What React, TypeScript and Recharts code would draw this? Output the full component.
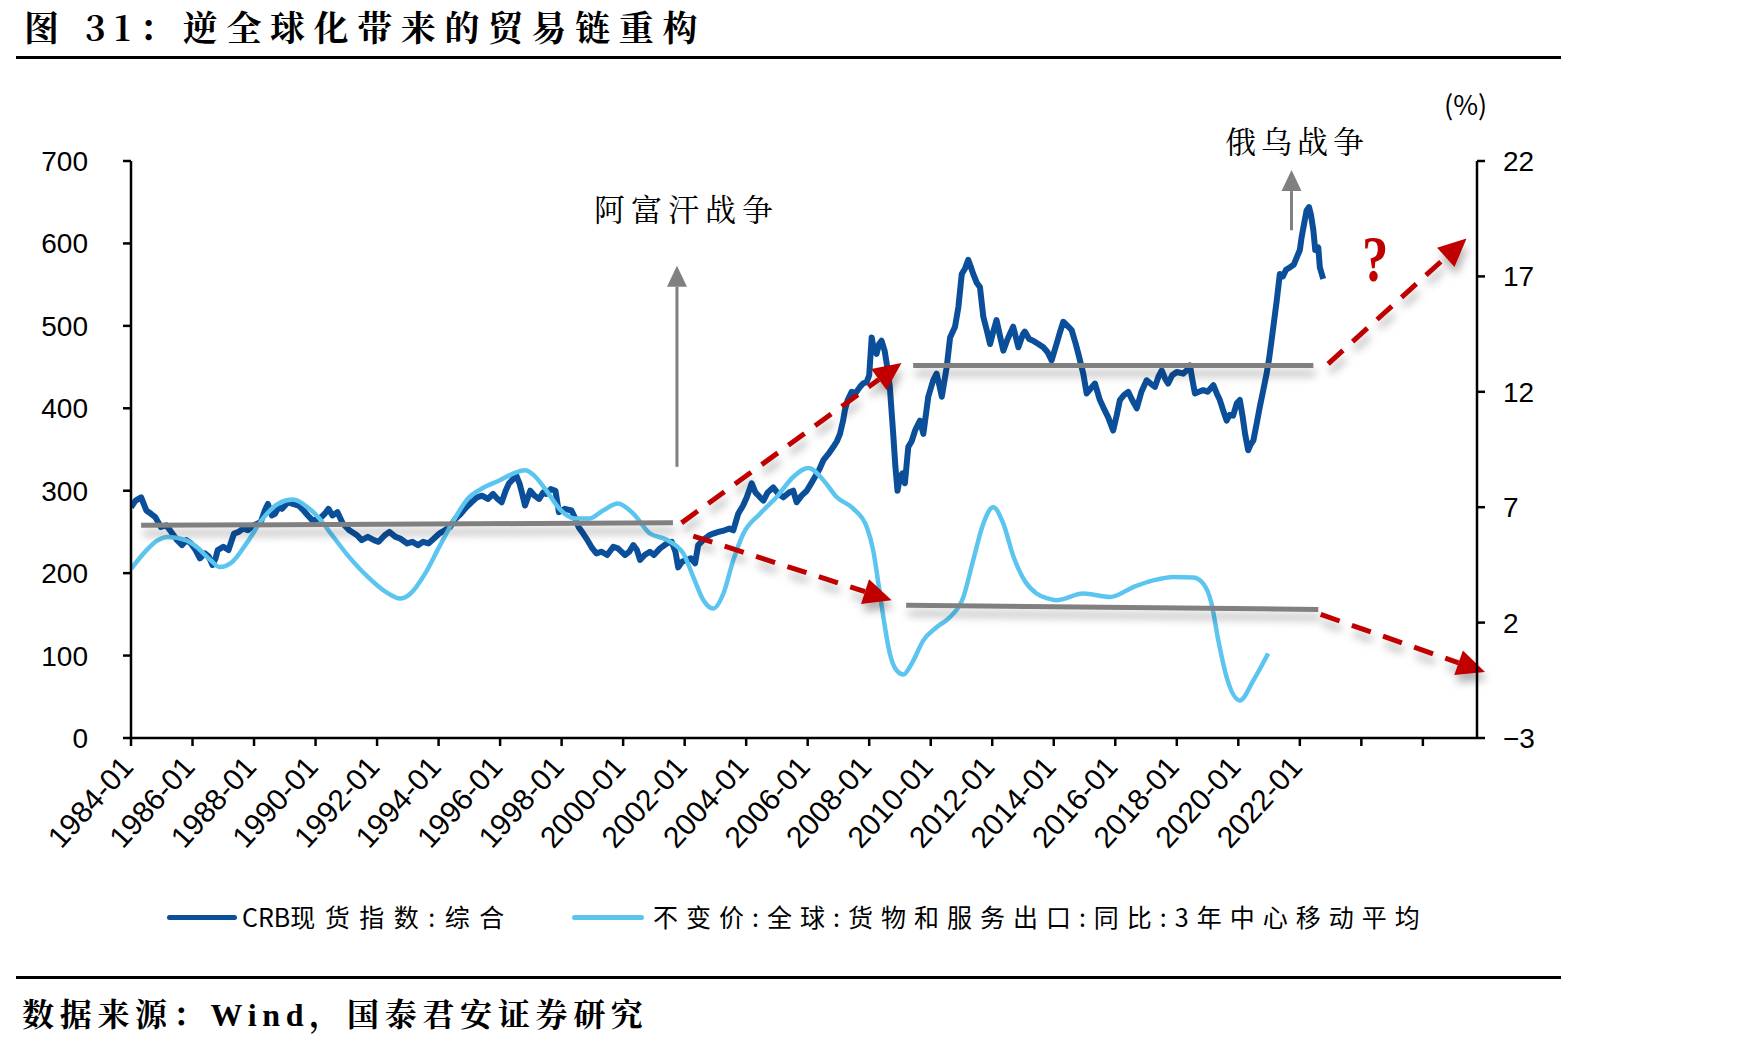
import React from "react";
import { LineChart, Line, XAxis, YAxis, ReferenceLine } from "recharts";

// CRB spot index, composite (left axis)
const crbYears = [
  1984.0, 1984.15, 1984.33, 1984.5, 1984.65, 1984.79, 1984.97, 1985.15, 1985.31, 1985.5,
  1985.66, 1985.8, 1985.95, 1986.1, 1986.24, 1986.4, 1986.53, 1986.65, 1986.75, 1986.82,
  1987.0, 1987.17, 1987.35, 1987.5, 1987.64, 1987.8, 1987.99, 1988.22, 1988.35, 1988.45,
  1988.58, 1988.68, 1988.8, 1988.91, 1989.1, 1989.26, 1989.45, 1989.61, 1989.75, 1989.9,
  1990.13, 1990.3, 1990.42, 1990.55, 1990.71, 1990.89, 1991.1, 1991.35, 1991.5, 1991.7,
  1991.9, 1992.05, 1992.25, 1992.4, 1992.6, 1992.75, 1992.98, 1993.15, 1993.33, 1993.5,
  1993.67, 1993.85, 1994.02, 1994.2, 1994.37, 1994.55, 1994.72, 1994.9, 1995.07, 1995.25,
  1995.41, 1995.6, 1995.77, 1995.92, 1996.05, 1996.18, 1996.29, 1996.42, 1996.52, 1996.63,
  1996.72, 1996.81, 1996.98, 1997.12, 1997.27, 1997.4, 1997.5, 1997.65, 1997.8, 1997.91,
  1998.1, 1998.32, 1998.45, 1998.55, 1998.7, 1998.84, 1999.0, 1999.13, 1999.3, 1999.48,
  1999.68, 1999.83, 2000.06, 2000.2, 2000.33, 2000.45, 2000.55, 2000.7, 2000.87, 2001.0,
  2001.2, 2001.42, 2001.58, 2001.7, 2001.79, 2001.92, 2002.07, 2002.2, 2002.34, 2002.44,
  2002.6, 2002.8, 2002.93, 2003.1, 2003.3, 2003.45, 2003.58, 2003.74, 2003.9, 2004.02,
  2004.18, 2004.3, 2004.45, 2004.56, 2004.7, 2004.88, 2005.05, 2005.21, 2005.4, 2005.53,
  2005.64, 2005.8, 2005.97, 2006.1, 2006.24, 2006.38, 2006.51, 2006.7, 2006.83, 2006.95,
  2007.05, 2007.15, 2007.21, 2007.3, 2007.43, 2007.55, 2007.7, 2007.8, 2007.92, 2008.0,
  2008.08, 2008.16, 2008.24, 2008.32, 2008.4, 2008.5, 2008.57, 2008.67, 2008.78, 2008.85,
  2008.92, 2009.0, 2009.08, 2009.16, 2009.27, 2009.38, 2009.49, 2009.58, 2009.65, 2009.76,
  2009.92, 2010.08, 2010.19, 2010.28, 2010.36, 2010.52, 2010.63, 2010.79, 2010.9, 2011.01,
  2011.12, 2011.22, 2011.3, 2011.38, 2011.5, 2011.6, 2011.71, 2011.82, 2011.93, 2012.04,
  2012.14, 2012.25, 2012.36, 2012.5, 2012.68, 2012.77, 2012.85, 2013.0, 2013.06, 2013.2,
  2013.33, 2013.5, 2013.66, 2013.8, 2013.93, 2014.09, 2014.2, 2014.31, 2014.45, 2014.58,
  2014.7, 2014.8, 2014.96, 2015.07, 2015.2, 2015.34, 2015.5, 2015.65, 2015.77, 2015.93,
  2016.05, 2016.15, 2016.28, 2016.42, 2016.55, 2016.7, 2016.85, 2017.02, 2017.15, 2017.29,
  2017.4, 2017.51, 2017.62, 2017.72, 2017.85, 2018.0, 2018.21, 2018.32, 2018.43, 2018.5,
  2018.59, 2018.72, 2018.86, 2019.0, 2019.19, 2019.3, 2019.4, 2019.52, 2019.62, 2019.72,
  2019.83, 2019.95, 2020.05, 2020.14, 2020.22, 2020.32, 2020.4, 2020.49, 2020.6, 2020.7,
  2020.8, 2020.92, 2021.0, 2021.08, 2021.17, 2021.25, 2021.35, 2021.45, 2021.55, 2021.68,
  2021.8, 2021.9, 2022.0, 2022.06, 2022.14, 2022.22, 2022.3, 2022.36, 2022.44, 2022.5,
  2022.6, 2022.65, 2022.72, 2022.76,
];
const crbValues = [
  280, 288, 292, 276, 272, 268, 256, 258, 250, 240,
  234, 240, 236, 228, 218, 224, 220, 210, 218, 228,
  232, 228, 248, 250, 254, 252, 258, 262, 276, 284,
  270, 272, 280, 278, 286, 284, 282, 276, 270, 264,
  266, 272, 278, 270, 274, 260, 252, 246, 240, 244,
  240, 238, 246, 250, 244, 242, 236, 238, 234, 238,
  236, 242, 248, 252, 256, 266, 272, 280, 286, 292,
  294, 290, 296, 290, 286, 300, 309, 314, 319, 309,
  296, 282, 300, 294, 290, 298, 296, 302, 300, 274,
  278, 276, 266, 256, 248, 240, 230, 224, 226, 222,
  232, 230, 222, 226, 234, 228, 216, 222, 226, 222,
  230, 236, 238, 226, 207, 214, 216, 218, 212, 234,
  240, 246, 248, 250, 252, 254, 252, 272, 282, 292,
  309, 298, 292, 288, 298, 304, 296, 292, 298, 300,
  286, 294, 300, 308, 317, 326, 337, 346, 353, 360,
  369, 385, 398, 410, 420, 418, 426, 430, 432, 440,
  486, 470, 466, 478, 482, 470, 454, 426, 369, 330,
  300, 316, 321, 309, 353, 360, 373, 380, 385, 369,
  414, 434, 442, 428, 414, 450, 486, 499, 523, 563,
  570, 580, 572, 563, 552, 547, 511, 495, 478, 494,
  507, 488, 470, 484, 499, 486, 474, 490, 493, 484,
  482, 478, 474, 468, 458, 478, 492, 505, 500, 495,
  480, 466, 442, 418, 424, 430, 410, 398, 389, 373,
  392, 410, 416, 420, 410, 400, 420, 434, 430, 426,
  438, 446, 436, 430, 440, 444, 442, 446, 452, 436,
  418, 420, 422, 420, 428, 418, 410, 396, 385, 392,
  391, 406, 410, 390, 369, 349, 356, 361, 382, 402,
  420, 442, 460, 482, 508, 531, 563, 560, 568, 571,
  574, 583, 592, 608, 624, 640, 644, 635, 616, 592,
  595, 571, 562, 557,
];

// constant-price global exports of goods and services, yoy, 3-year centred moving average (right axis, %)
const exportYears = [
  1984.01, 1984.5, 1984.85, 1985.2, 1985.78, 1986.13, 1986.59, 1986.88, 1987.29, 1987.75,
  1988.33, 1988.8, 1989.26, 1989.73, 1990.08, 1990.42, 1991.0, 1991.7, 1992.28, 1992.75,
  1993.09, 1993.56, 1994.02, 1994.49, 1994.95, 1995.41, 1995.99, 1996.46, 1996.81, 1997.1,
  1997.5, 1997.97, 1998.43, 1998.9, 1999.36, 1999.83, 2000.33, 2000.87, 2001.4, 2001.96,
  2002.28, 2002.61, 2002.93, 2003.26, 2003.58, 2003.91, 2004.45, 2004.99, 2005.53, 2006.02,
  2006.51, 2006.94, 2007.48, 2007.92, 2008.13, 2008.3, 2008.46, 2008.67, 2008.89, 2009.11,
  2009.38, 2009.76, 2010.19, 2010.63, 2011.06, 2011.38, 2011.71, 2012.03, 2012.36, 2012.68,
  2013.06, 2013.44, 2013.8, 2014.09, 2014.96, 2015.83, 2016.59, 2017.23, 2017.89, 2018.54,
  2018.86, 2019.13, 2019.35, 2019.62, 2020.05, 2020.49, 2020.97,
];
const exportValues = [
  4.34, 5.13, 5.55, 5.71, 5.57, 5.28, 4.7, 4.41, 4.63, 5.42,
  6.58, 7.16, 7.33, 7.01, 6.58, 6.0, 4.99, 3.98, 3.33, 3.04,
  3.26, 4.12, 5.28, 6.43, 7.37, 7.81, 8.17, 8.48, 8.6, 8.38,
  7.73, 6.87, 6.51, 6.51, 6.87, 7.16, 6.72, 5.86, 5.6, 4.99,
  3.98, 2.97, 2.61, 3.26, 4.7, 5.86, 6.72, 7.44, 8.31, 8.7,
  8.17, 7.44, 6.94, 6.14, 5.13, 3.69, 2.24, 0.66, -0.07, -0.25,
  0.22, 1.23, 1.8, 2.24, 3.1, 4.7, 6.29, 7.0, 6.29, 4.9,
  3.8, 3.26, 3.05, 2.97, 3.26, 3.11, 3.54, 3.83, 3.98, 3.95,
  3.69, 2.82, 1.23, -0.36, -1.37, -0.5, 0.66,
];

const yearTicks = [
  1984, 1986, 1988, 1990, 1992, 1994, 1996, 1998, 2000, 2002, 2004,
  2006, 2008, 2010, 2012, 2014, 2016, 2018, 2020, 2022, 2024, 2026,
];
const lastLabelledYear = 2022;
const leftTicks = [0, 100, 200, 300, 400, 500, 600, 700];
const rightTicks = [-3, 2, 7, 12, 17, 22];

// flat CRB levels: [year, level]
const levelStarts = [[1984.33, 258], [2009.43, 452], [2009.2, 161]];
const levelEnds = [[2001.62, 261], [2022.44, 452], [2022.6, 156]];

// dashed trend arrows: [year, level]
const trendStarts = [[2001.9, 261], [2002.28, 245], [2022.92, 454], [2022.68, 150]];
const trendEnds = [[2009.05, 455], [2008.73, 167], [2027.42, 606], [2028.02, 80]];

// event markers (Afghanistan, Russia-Ukraine)
const eventYears = [2001.75, 2021.73];
const eventFrom = [329, 616];
const eventTo = [573, 689];

const crbData = crbYears.map((t, i) => ({ t, v: crbValues[i] }));
const exportData = exportYears.map((t, i) => ({ t, v: exportValues[i] }));

const DARK = "#0B4F9A";
const LIGHT = "#5BC5F0";
const GREY = "#808080";
const RED = "#C00000";
const AXIS_FONT = "'Liberation Sans', Arial, sans-serif";
const CJK_FONT = "'Noto Serif CJK SC', 'Noto Sans CJK SC', serif";
const CJK_SANS = "'Noto Sans CJK SC', sans-serif";

const arrowShape =
  (color: string, width: number, headLen: number, headHalf: number, dash?: string, shadow = true) =>
  (p: any) => {
    const { x1, y1, x2, y2 } = p;
    const len = Math.hypot(x2 - x1, y2 - y1) || 1;
    const ux = (x2 - x1) / len;
    const uy = (y2 - y1) / len;
    const bx = x2 - ux * headLen;
    const by = y2 - uy * headLen;
    const nx = -uy * headHalf;
    const ny = ux * headHalf;
    return (
      <g filter={shadow ? "url(#dropShadow)" : undefined}>
        <line x1={x1} y1={y1} x2={bx} y2={by} stroke={color} strokeWidth={width} strokeDasharray={dash} />
        <polygon points={`${x2},${y2} ${bx + nx},${by + ny} ${bx - nx},${by - ny}`} fill={color} />
      </g>
    );
  };

const levelShape = (p: any) => (
  <line x1={p.x1} y1={p.y1} x2={p.x2} y2={p.y2} stroke={GREY} strokeWidth={5} filter="url(#dropShadow)" />
);

const YearTick = (p: any) => {
  const { x, y, payload } = p;
  if (payload.value > lastLabelledYear) return <g />;
  const ax = x + 4;
  const ay = y + 20;
  return (
    <text
      x={ax}
      y={ay}
      transform={`rotate(-48 ${ax} ${ay})`}
      textAnchor="end"
      fontSize={30}
      fontFamily={AXIS_FONT}
      fill="#000"
    >
      {`${payload.value}-01`}
    </text>
  );
};

const tickStyle = { fontSize: 28, fontFamily: AXIS_FONT, fill: "#000" };
const axisLine = { stroke: "#000", strokeWidth: 2.5 };

const abs = (left: number, top: number, extra: React.CSSProperties = {}): React.CSSProperties => ({
  position: "absolute",
  left,
  top,
  whiteSpace: "nowrap",
  lineHeight: 1,
  ...extra,
});

export default function App() {
  return (
    <div style={{ position: "absolute", left: 0, top: 0, width: 1742, height: 1047, background: "#fff" }}>
      <LineChart width={1742} height={1047} margin={{ top: 161, left: 51, right: 185, bottom: 209 }}>
        <defs>
          <filter id="dropShadow" filterUnits="userSpaceOnUse" x={0} y={0} width={1742} height={1047}>
            <feDropShadow dx={2} dy={8} stdDeviation={4} floodColor="#000" floodOpacity={0.3} />
          </filter>
        </defs>
        <XAxis
          type="number"
          dataKey="t"
          domain={[1984, 2027.76]}
          ticks={yearTicks}
          tick={<YearTick />}
          tickSize={8}
          height={100}
          axisLine={axisLine}
          tickLine={axisLine}
          allowDataOverflow
        />
        <YAxis
          yAxisId="left"
          domain={[0, 700]}
          ticks={leftTicks}
          width={80}
          tickSize={8}
          tickMargin={35}
          tick={tickStyle}
          axisLine={axisLine}
          tickLine={axisLine}
        />
        <YAxis
          yAxisId="right"
          orientation="right"
          domain={[-3, 22]}
          ticks={rightTicks}
          width={80}
          tickSize={8}
          tickMargin={18}
          tick={tickStyle}
          tickFormatter={(v: number) => (v < 0 ? `\u2212${Math.abs(v)}` : `${v}`)}
          axisLine={axisLine}
          tickLine={axisLine}
        />
        <Line
          yAxisId="left"
          data={crbData}
          dataKey="v"
          type="linear"
          stroke={DARK}
          strokeWidth={6}
          strokeLinejoin="round"
          dot={false}
          activeDot={false}
          isAnimationActive={false}
        />
        <Line
          yAxisId="right"
          data={exportData}
          dataKey="v"
          type="monotone"
          stroke={LIGHT}
          strokeWidth={4.5}
          dot={false}
          activeDot={false}
          isAnimationActive={false}
        />
        {levelStarts.map((s, i) => (
          <ReferenceLine
            key={`lvl${i}`}
            yAxisId="left"
            ifOverflow="visible"
            segment={[{ x: s[0], y: s[1] }, { x: levelEnds[i][0], y: levelEnds[i][1] }]}
            shape={levelShape}
          />
        ))}
        {trendStarts.map((s, i) => (
          <ReferenceLine
            key={`trend${i}`}
            yAxisId="left"
            ifOverflow="visible"
            segment={[{ x: s[0], y: s[1] }, { x: trendEnds[i][0], y: trendEnds[i][1] }]}
            shape={arrowShape(RED, 5, 28, 13, "20 13")}
          />
        ))}
        {eventYears.map((t, i) => (
          <ReferenceLine
            key={`evt${i}`}
            yAxisId="left"
            ifOverflow="visible"
            segment={[{ x: t, y: eventFrom[i] }, { x: t, y: eventTo[i] }]}
            shape={arrowShape(GREY, 3, 21, 10, undefined, false)}
          />
        ))}
      </LineChart>

      <div style={abs(24, 9, { fontSize: 35, fontWeight: 700, fontFamily: CJK_FONT, letterSpacing: 8.6 })}>
        图 31：逆全球化带来的贸易链重构
      </div>
      <div style={abs(16, 56, { width: 1545, height: 3, background: "#000" })} />

      <div style={abs(1444, 90, { fontSize: 27, fontFamily: CJK_SANS })}>(%)</div>
      <div style={abs(594, 192, { fontSize: 31, fontFamily: CJK_FONT, letterSpacing: 6 })}>阿富汗战争</div>
      <div style={abs(1225, 124, { fontSize: 31, fontFamily: CJK_FONT, letterSpacing: 5 })}>俄乌战争</div>
      <div
        style={abs(1362, 226, {
          fontSize: 66,
          fontWeight: 700,
          fontFamily: "'Liberation Serif', serif",
          color: RED,
          transform: "scaleX(0.8)",
          transformOrigin: "left top",
        })}
      >
        ?
      </div>

      <div style={abs(167, 915, { width: 70, height: 5, borderRadius: 3, background: DARK })} />
      <div style={abs(242, 904, { fontSize: 25, fontFamily: CJK_SANS, letterSpacing: 9.5 })}>
        <span style={{ letterSpacing: 0 }}>CRB</span>现货指数:综合
      </div>
      <div style={abs(572, 915, { width: 72, height: 5, borderRadius: 3, background: LIGHT })} />
      <div style={abs(653, 904, { fontSize: 25, fontFamily: CJK_SANS, letterSpacing: 8 })}>
        不变价:全球:货物和服务出口:同比:3年中心移动平均
      </div>

      <div style={abs(16, 976, { width: 1545, height: 3, background: "#000" })} />
      <div style={abs(22, 996, { fontSize: 32, fontWeight: 700, fontFamily: CJK_FONT, letterSpacing: 5.7 })}>
        数据来源：<span style={{ fontFamily: "'Liberation Serif', serif" }}>Wind</span>，国泰君安证券研究
      </div>
    </div>
  );
}
